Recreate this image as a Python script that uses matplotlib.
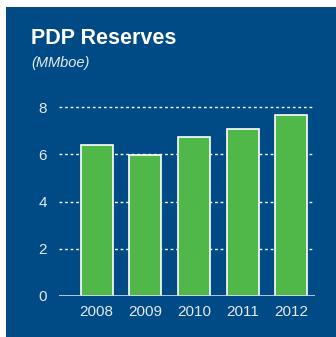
import matplotlib.pyplot as plt

# Data
years = ['2008', '2009', '2010', '2011', '2012']
reserves = [6.40, 5.98, 6.75, 7.09, 7.66]
yticks = [0, 2, 4, 6, 8]

blue = '#004a86'
green = '#50b848'
light = '#e4e9f0'
fam = ['Liberation Sans Narrow', 'Liberation Sans', 'DejaVu Sans']

W, H = 336, 337
fig = plt.figure(figsize=(W / 100, H / 100), dpi=100)
fig.patch.set_facecolor('white')

# blue panel behind everything
bg = fig.add_axes([6 / W, 0, 1 - 6 / W, 1 - 7 / H], zorder=-1)
bg.set_facecolor(blue)
bg.set_xticks([])
bg.set_yticks([])
for s in bg.spines.values():
    s.set_visible(False)

fig.text(31 / W, 1 - 38 / H, 'PDP Reserves', color='white', fontsize=15.5,
         fontweight='bold', family=fam, va='center', ha='left')
fig.text(31 / W, 1 - 63 / H, '(MMboe)', color=light, fontsize=10.5,
         style='italic', family=fam, va='center', ha='left')

ax = fig.add_axes([59.3 / W, 1 - 295.7 / H, (315 - 59.3) / W, (295.7 - 100) / H])
ax.set_facecolor('none')
x = range(len(years))
ax.bar(x, reserves, width=0.66, color=green, edgecolor='white', linewidth=1.2, zorder=3)
ax.set_xlim(-0.77, 4.49)
ax.set_ylim(0, 8 * (295.7 - 100) / (295.7 - 107.3))

for t in yticks[1:]:
    ax.axhline(t, color='white', linestyle=(0, (2, 2)), linewidth=1, zorder=1)
ax.axhline(0, color='#c8d2de', linewidth=2, zorder=4)

ax.set_xticks(list(x))
ax.set_xticklabels(years)
ax.set_yticks(yticks)
for s in ax.spines.values():
    s.set_visible(False)
ax.tick_params(length=0, colors=light, labelsize=11)
ax.tick_params(axis='y', pad=9)
ax.tick_params(axis='x', pad=7)
for lab in ax.get_xticklabels() + ax.get_yticklabels():
    lab.set_family(fam)

fig.savefig('out.png', dpi=100, facecolor=fig.get_facecolor())
